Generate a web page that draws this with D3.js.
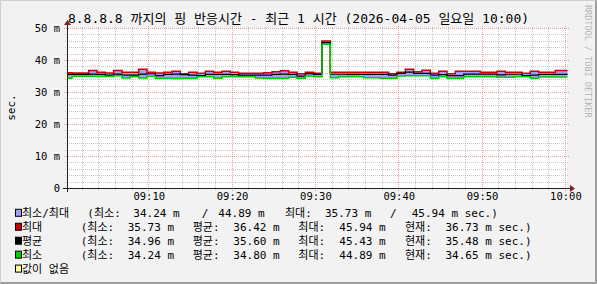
<!DOCTYPE html>
<html>
<head>
<meta charset="utf-8">
<script src="https://cdn.jsdelivr.net/npm/d3@7"></script>
<style>
body { margin: 0; background: #f2f2f2; }
svg { display: block; }
text { font-family: "DejaVu Sans Mono", "Noto Sans CJK KR", monospace; fill: #000; }
</style>
</head>
<body>
<svg id="chart" width="597" height="284"></svg>
<script>
// chart texts
const title = "8.8.8.8 까지의 핑 반응시간 - 최근 1 시간 (2026-04-05 일요일 10:00)"
const yTitle = "sec."
const watermark = "RRDTOOL / TOBI OETIKER"

// time window and data step (1 minute)
const viewStart = "2026-04-05 09:00:15"
const viewEnd = "2026-04-05 10:00:15"
const dataStart = "2026-04-05 08:59:51"
const stepSec = 60

const yTicks = [0, 10, 20, 30, 40, 50]
const yTickLabels = ["0", "10 m", "20 m", "30 m", "40 m", "50 m"]
const xTickLabels = ["09:10", "09:20", "09:30", "09:40", "09:50", "10:00"]

// ping times in ms, one value per minute
const maxVals = [36.0, 35.9, 35.9, 36.7, 36.15, 35.9, 36.7, 36.15, 36.15, 37.1,
  36.15, 35.9, 36.15, 36.45, 35.73, 36.15, 35.85, 36.45, 36.15, 36.45,
  36.15, 35.85, 35.85, 35.85, 36.0, 36.35, 36.66, 36.15, 35.73, 36.15,
  35.85, 45.94, 36.15, 36.15, 36.15, 36.15, 36.15, 36.15, 36.15, 35.73,
  36.15, 37.1, 36.35, 36.8, 35.85, 36.45, 35.73, 36.45, 36.45, 36.45,
  36.15, 36.15, 36.45, 36.15, 36.15, 35.85, 36.45, 36.15, 36.15, 36.73, 36.73]
const avgVals = [35.53, 35.53, 35.53, 35.6, 35.53, 35.3, 35.6, 35.3, 35.3, 35.6,
  35.7, 35.1, 35.5, 35.6, 35.45, 35.3, 35.1, 35.53, 35.53, 35.53,
  35.4, 35.3, 35.3, 35.3, 35.3, 35.53, 35.6, 35.53, 34.96, 35.75,
  35.5, 45.43, 35.55, 35.55, 35.5, 35.5, 35.5, 35.5, 35.5, 35.3,
  35.8, 36.2, 35.8, 35.8, 35.3, 35.4, 35.1, 35.1, 35.6, 35.6,
  35.6, 35.6, 35.35, 35.55, 35.55, 35.1, 35.3, 35.48, 35.48, 35.48, 35.48]
const minVals = [34.3, 34.9, 34.9, 34.9, 34.85, 34.85, 35.1, 34.35, 34.78, 34.35,
  34.9, 34.28, 34.28, 34.24, 34.28, 34.28, 34.78, 34.78, 34.28, 34.78,
  34.78, 34.78, 34.78, 34.4, 34.28, 34.28, 34.28, 34.6, 34.28, 35.0,
  34.78, 44.89, 34.47, 34.78, 34.78, 34.78, 34.47, 34.47, 34.28, 34.28,
  35.0, 35.1, 35.1, 35.1, 34.28, 34.78, 34.28, 34.28, 34.78, 34.78,
  34.78, 34.78, 34.6, 34.6, 34.78, 34.78, 34.28, 34.65, 34.65, 34.65, 34.65]

// legend
const legendNames = ["최소/최대", "최대", "평균", "최소", "값이 없음"]
const legendColors = ["#a0a0ff", "#cc0000", "#000000", "#00cc00", "#ffffa0"]
const rangeStats = [34.24, 44.89, 35.73, 45.94]     // min series min/max, max series min/max
const maxStats = [35.73, 36.42, 45.94, 36.73]       // 최소, 평균, 최대, 현재
const avgStats = [34.96, 35.60, 45.43, 35.48]
const minStats = [34.24, 34.80, 44.89, 34.65]
const statNames = ["(최소:", "평균:", "최대:", "현재:"]

const svg = d3.select("#chart")
const W = 597, H = 284
const plot = {left: 67, right: 567, top: 28, bottom: 188}
const parse = d3.timeParse("%Y-%m-%d %H:%M:%S")

const x = d3.scaleTime()
  .domain([parse(viewStart), parse(viewEnd)])
  .range([plot.left, plot.right])
const y = d3.scaleLinear()
  .domain([0, 50])
  .range([plot.bottom, plot.top])

// background, frame, canvas
svg.append("rect").attr("width", W).attr("height", H).attr("fill", "#f2f2f2")
svg.append("path").attr("d", `M0.5,${H} V0.5 H${W}`).attr("fill", "none").attr("stroke", "#cfcfcf").attr("stroke-width", 1)
svg.append("path").attr("d", `M0,${H - 0.5} H${W - 0.5} V0`).attr("fill", "none").attr("stroke", "#9e9e9e").attr("stroke-width", 1)
svg.append("path").attr("d", `M1,${H - 1.5} H${W - 1.5} V1`).attr("fill", "none").attr("stroke", "#9e9e9e").attr("stroke-width", 1)
svg.append("rect")
  .attr("x", plot.left).attr("y", plot.top)
  .attr("width", plot.right - plot.left).attr("height", plot.bottom - plot.top)
  .attr("fill", "#fff")

// grid
const grid = svg.append("g").attr("shape-rendering", "crispEdges")
const minorCol = "rgba(143,143,143,0.5)"
const majorCol = "rgba(222,79,79,0.55)"

const minorX = x.ticks(d3.timeMinute.every(2)).filter(d => d.getMinutes() % 10 !== 0)
const majorX = xTickLabels.map(l => parse("2026-04-05 " + l + ":00"))
const minorY = y.ticks(25).filter(v => v % 10 !== 0)
const majorY = yTicks.filter(v => v > 0)

grid.selectAll(".vmin").data(minorX).enter().append("line")
  .attr("x1", d => Math.round(x(d)) + 0.5).attr("x2", d => Math.round(x(d)) + 0.5)
  .attr("y1", plot.top - 1).attr("y2", plot.bottom + 2)
  .attr("stroke", minorCol).attr("stroke-dasharray", "1,1")
grid.selectAll(".hmin").data(minorY).enter().append("line")
  .attr("y1", d => Math.round(y(d)) + 0.5).attr("y2", d => Math.round(y(d)) + 0.5)
  .attr("x1", plot.left - 2).attr("x2", plot.right + 1)
  .attr("stroke", minorCol).attr("stroke-dasharray", "1,1")
grid.selectAll(".vmaj").data(majorX).enter().append("line")
  .attr("x1", d => Math.round(x(d)) + 0.5).attr("x2", d => Math.round(x(d)) + 0.5)
  .attr("y1", plot.top - 2).attr("y2", plot.bottom + 3)
  .attr("stroke", majorCol).attr("stroke-dasharray", "1,1")
grid.selectAll(".hmaj").data(majorY).enter().append("line")
  .attr("y1", d => Math.round(y(d)) + 0.5).attr("y2", d => Math.round(y(d)) + 0.5)
  .attr("x1", plot.left - 3).attr("x2", plot.right + 2)
  .attr("stroke", majorCol).attr("stroke-dasharray", "1,1")

// data
const t0 = parse(dataStart).getTime()
const pts = maxVals.map((v, i) => ({
  t: new Date(t0 + i * stepSec * 1000), hi: v, avg: avgVals[i], lo: minVals[i]
}))
const last = pts[pts.length - 1]
pts.push({t: new Date(last.t.getTime() + stepSec * 1000), hi: last.hi, avg: last.avg, lo: last.lo})

svg.append("clipPath").attr("id", "clip").append("rect")
  .attr("x", plot.left + 0.5).attr("y", plot.top).attr("width", plot.right - plot.left).attr("height", plot.bottom - plot.top)

const g = svg.append("g").attr("clip-path", "url(#clip)")

const area = d3.area()
  .x(d => x(d.t)).y0(d => y(d.lo)).y1(d => y(d.hi))
  .curve(d3.curveStepAfter)
g.append("path").datum(pts).attr("d", area).attr("fill", legendColors[0])

function drawLine(key, color, width) {
  const line = d3.line().x(d => x(d.t)).y(d => y(d[key])).curve(d3.curveStepAfter)
  g.append("path").datum(pts).attr("d", line)
    .attr("fill", "none").attr("stroke", color).attr("stroke-width", width)
}
drawLine("hi", legendColors[1], 1.5)
drawLine("avg", legendColors[2], 1.2)
drawLine("lo", legendColors[3], 1.5)

// axes
const axisCol = "#1f1f1f"
svg.append("line")
  .attr("x1", plot.left - 4).attr("x2", plot.right + 4)
  .attr("y1", plot.bottom + 0.5).attr("y2", plot.bottom + 0.5)
  .attr("stroke", axisCol)
svg.append("line")
  .attr("x1", plot.left + 0.5).attr("x2", plot.left + 0.5)
  .attr("y1", plot.bottom + 4).attr("y2", plot.top - 4)
  .attr("stroke", axisCol)
svg.append("path")
  .attr("d", `M${plot.right + 3},${plot.bottom - 3} L${plot.right + 3},${plot.bottom + 4} L${plot.right + 8},${plot.bottom + 0.5} Z`)
  .attr("fill", "#801f1f")
svg.append("path")
  .attr("d", `M${plot.left - 3},${plot.top - 3} L${plot.left + 4},${plot.top - 3} L${plot.left + 0.5},${plot.top - 8} Z`)
  .attr("fill", "#801f1f")

// tick labels
svg.selectAll(".ylab").data(yTicks).enter().append("text")
  .attr("x", 60).attr("y", d => y(d) + 3.8)
  .attr("text-anchor", "end").attr("font-size", "10.5px")
  .text((d, i) => yTickLabels[i])
svg.selectAll(".xlab").data(majorX).enter().append("text")
  .attr("x", d => x(d) + 1).attr("y", 200)
  .attr("text-anchor", "middle").attr("font-size", "10.5px")
  .text((d, i) => xTickLabels[i])

// titles
svg.append("text").attr("x", W / 2).attr("y", 23)
  .attr("text-anchor", "middle").attr("font-size", "13px")
  .text(title)
svg.append("text").attr("transform", "translate(15,107.5) rotate(-90)")
  .attr("text-anchor", "middle").attr("font-size", "11px")
  .text(yTitle)
svg.append("text").attr("transform", "translate(585,5) rotate(90)")
  .attr("font-size", "8.5px").style("fill", "#b4b4b4")
  .text(watermark)

// legend
const fmt = v => v.toFixed(2) + " m"
const rowY = i => 216.8 + 13.95 * i
const legend = svg.append("g").attr("font-size", "11px")

legendNames.forEach((name, i) => {
  const b = rowY(i)
  legend.append("rect")
    .attr("x", 15.5).attr("y", b - 7.5).attr("width", 6).attr("height", 7)
    .attr("fill", legendColors[i]).attr("stroke", "#000")
  legend.append("text").attr("x", 22).attr("y", b).text(name)
})

function put(xp, row, str) {
  legend.append("text").attr("x", xp).attr("y", rowY(row))
    .attr("xml:space", "preserve").text(str)
}

put(87.3, 0, statNames[0])
put(133.3, 0, fmt(rangeStats[0]))
put(201.7, 0, "/")
put(218.3, 0, fmt(rangeStats[1]))
put(285, 0, statNames[2])
put(325, 0, fmt(rangeStats[2]))
put(390, 0, "/")
put(411.7, 0, fmt(rangeStats[3]) + " sec.)")

const cols = [80.7, 192.7, 298.3, 405]
const valCols = [127.7, 233.3, 339.3, 445.5];
[maxStats, avgStats, minStats].forEach((st, r) => {
  st.forEach((v, j) => {
    put(cols[j], r + 1, statNames[j])
    put(valCols[j], r + 1, fmt(v) + (j === 3 ? " sec.)" : ""))
  })
})
</script>
</body>
</html>
